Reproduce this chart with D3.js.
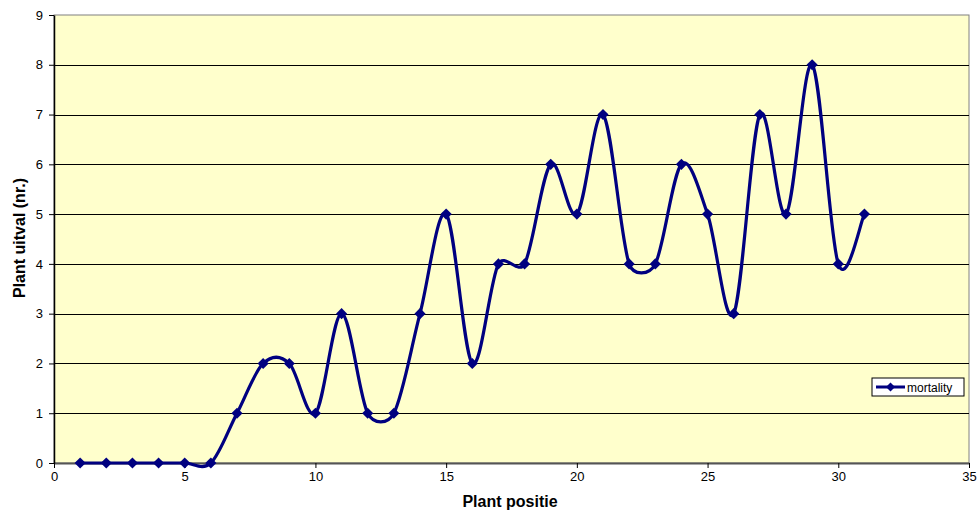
<!DOCTYPE html>
<html>
<head>
<meta charset="utf-8">
<script src="https://cdn.jsdelivr.net/npm/d3@7"></script>
<style>
  body { margin: 0; background: #fff; }
  svg { display: block; font-family: "Liberation Sans", Arial, sans-serif; }
</style>
</head>
<body>
<svg id="chart" width="977" height="514"></svg>
<script>
// Plant positions and mortality counts
const positions = d3.range(1, 32);
const mortality = [0, 0, 0, 0, 0, 0, 1, 2, 2, 1, 3, 1, 1, 3, 5, 2, 4, 4, 6, 5, 7, 4, 4, 6, 5, 3, 7, 5, 8, 4, 5];
const xTicks = [0, 5, 10, 15, 20, 25, 30, 35];
const yTicks = [0, 1, 2, 3, 4, 5, 6, 7, 8, 9];
const seriesName = "mortality";
const xTitle = "Plant positie";
const yTitle = "Plant uitval (nr.)";

const svg = d3.select("#chart");
const m = { left: 54, right: 969, top: 15, bottom: 463 };

const x = d3.scaleLinear().domain([0, 35]).range([m.left, m.right]);
const y = d3.scaleLinear().domain([0, 9]).range([m.bottom, m.top]);

// Spreadsheet-style smoothing: Bezier segments whose control arms are
// 1/6 of the neighbour chord, clamped to half the segment length.
function smoothCurve(context) {
  let pts = [];
  return {
    areaStart() {}, areaEnd() {},
    lineStart() { pts = []; },
    point(px, py) { pts.push([+px, +py]); },
    lineEnd() {
      const n = pts.length;
      if (!n) return;
      context.moveTo(pts[0][0], pts[0][1]);
      const dist = (a, b) => Math.hypot(b[0] - a[0], b[1] - a[1]);
      for (let i = 0; i < n - 1; i++) {
        const p0 = pts[Math.max(i - 1, 0)], p1 = pts[i], p2 = pts[i + 1], p3 = pts[Math.min(i + 2, n - 1)];
        const d12 = dist(p1, p2), d02 = dist(p0, p2), d13 = dist(p1, p3);
        const f0 = d02 / 6 < d12 / 2 ? 1 / 6 : (d12 / 2) / d02;
        const f1 = d13 / 6 < d12 / 2 ? 1 / 6 : (d12 / 2) / d13;
        context.bezierCurveTo(
          p1[0] + f0 * (p2[0] - p0[0]), p1[1] + f0 * (p2[1] - p0[1]),
          p2[0] - f1 * (p3[0] - p1[0]), p2[1] - f1 * (p3[1] - p1[1]),
          p2[0], p2[1]);
      }
    }
  };
}

// Plot area background
svg.append("rect")
  .attr("x", m.left).attr("y", m.top)
  .attr("width", m.right - m.left).attr("height", m.bottom - m.top)
  .attr("fill", "#FFFFCC")
  .attr("stroke", "#808080").attr("stroke-width", 1);

// Horizontal gridlines
svg.append("g").selectAll("line")
  .data(yTicks.filter(d => d > 0 && d < 9))
  .join("line")
  .attr("x1", m.left).attr("x2", m.right)
  .attr("y1", d => Math.round(y(d)) + 0.5).attr("y2", d => Math.round(y(d)) + 0.5)
  .attr("stroke", "#000").attr("stroke-width", 1);

// Axes
const xAxis = d3.axisBottom(x).tickValues(xTicks).tickSize(5).tickSizeOuter(0).tickPadding(4);
const gx = svg.append("g").attr("transform", `translate(0,${m.bottom})`).call(xAxis);
gx.select(".domain").attr("stroke", "#555").attr("stroke-width", 2);
gx.selectAll(".tick line").attr("stroke", "#000");
gx.selectAll("text").attr("font-size", 13).attr("fill", "#000")
  .attr("font-family", "Liberation Sans, Arial, sans-serif");

const yAxis = d3.axisLeft(y).tickValues(yTicks).tickSize(5).tickSizeOuter(0).tickPadding(6);
const gy = svg.append("g").attr("transform", `translate(${m.left},0)`).call(yAxis);
gy.select(".domain").attr("stroke", "#000").attr("stroke-width", 1.5);
gy.selectAll(".tick line").attr("stroke", "#000");
gy.selectAll("text").attr("font-size", 13).attr("fill", "#000")
  .attr("font-family", "Liberation Sans, Arial, sans-serif");

// Axis titles
svg.append("text")
  .attr("x", 510).attr("y", 507)
  .attr("text-anchor", "middle").attr("font-weight", "bold").attr("font-size", 16)
  .text(xTitle);
svg.append("text")
  .attr("transform", `translate(25,238) rotate(-90)`)
  .attr("text-anchor", "middle").attr("font-weight", "bold").attr("font-size", 16)
  .text(yTitle);

// Smoothed series line
const data = positions.map((p, i) => ({ p, v: mortality[i] }));
const line = d3.line().x(d => x(d.p)).y(d => y(d.v)).curve(smoothCurve);
svg.append("path")
  .datum(data)
  .attr("d", line)
  .attr("fill", "none")
  .attr("stroke", "#000080")
  .attr("stroke-width", 3.2);

// Diamond markers
const diamond = d3.symbol().type(d3.symbolSquare).size(62);
svg.append("g").selectAll("path")
  .data(data)
  .join("path")
  .attr("transform", d => `translate(${x(d.p)},${y(d.v)}) rotate(45)`)
  .attr("d", diamond)
  .attr("fill", "#000080");

// Legend
const lg = svg.append("g").attr("transform", "translate(872,378)");
lg.append("rect").attr("width", 92).attr("height", 18)
  .attr("fill", "#fff").attr("stroke", "#000").attr("stroke-width", 1);
lg.append("line").attr("x1", 4).attr("x2", 33).attr("y1", 9).attr("y2", 9)
  .attr("stroke", "#000080").attr("stroke-width", 3);
lg.append("path").attr("d", d3.symbol().type(d3.symbolSquare).size(40))
  .attr("transform", "translate(18.5,9) rotate(45)").attr("fill", "#000080");
lg.append("text").attr("x", 35).attr("y", 13.5).attr("font-size", 12).text(seriesName);
</script>
</body>
</html>
